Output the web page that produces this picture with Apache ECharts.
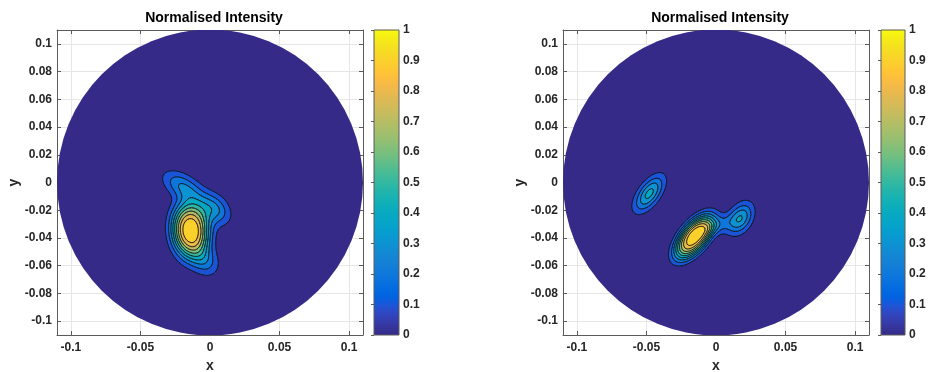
<!DOCTYPE html>
<html>
<head>
<meta charset="utf-8">
<title>Normalised Intensity</title>
<script src="https://cdn.jsdelivr.net/npm/echarts@6/dist/echarts.min.js"></script>
<style>
html, body { margin: 0; padding: 0; background: #fff; }
#main { width: 928px; height: 372px; }
</style>
</head>
<body>
<div id="main"></div>
<script>
// axes
var axisMin = -0.11, axisMax = 0.11;
var diskRadius = 0.11;
var contourLevels = [0.1, 0.2, 0.3, 0.4, 0.5, 0.6, 0.7, 0.8, 0.9];
var colorbarMin = 0, colorbarMax = 1, colorbarStep = 0.1;

// intensity spots
// cx, cy, amplitude, sigma along major axis, sigma along minor axis, major axis angle (deg), shape power
var spotsLeft = [
  [-0.0140, -0.0345, 1.00, 0.0150, 0.0100, 95, 1.3],
  [-0.0195, -0.0030, 0.30, 0.0110, 0.0060, -32, 1.0],
  [ 0.0030, -0.0190, 0.32, 0.0090, 0.0065, -45, 1.0],
  [-0.0030, -0.0570, 0.22, 0.0080, 0.0065, 120, 1.0]
];
var spotsRight = [
  [-0.0480, -0.0080, 0.45, 0.0103, 0.0050, 54, 1.0],
  [-0.0157, -0.0393, 1.00, 0.0146, 0.0072, 51, 1.4],
  [ 0.0176, -0.0258, 0.40, 0.0085, 0.0055, 60, 1.0],
  [ 0.0010, -0.0310, 0.20, 0.0090, 0.0045, 22, 1.0]
];

// parula colormap
var parula = [
  [0.2081,0.1663,0.5292],[0.2116,0.1898,0.5777],[0.2123,0.2138,0.6270],[0.2081,0.2386,0.6771],
  [0.1959,0.2645,0.7279],[0.1707,0.2919,0.7792],[0.1253,0.3242,0.8303],[0.0591,0.3598,0.8683],
  [0.0117,0.3875,0.8820],[0.0060,0.4086,0.8828],[0.0165,0.4266,0.8786],[0.0329,0.4430,0.8720],
  [0.0498,0.4586,0.8641],[0.0629,0.4737,0.8554],[0.0723,0.4887,0.8467],[0.0779,0.5040,0.8384],
  [0.0793,0.5200,0.8312],[0.0749,0.5375,0.8263],[0.0641,0.5570,0.8240],[0.0488,0.5772,0.8228],
  [0.0343,0.5966,0.8199],[0.0265,0.6137,0.8135],[0.0239,0.6287,0.8038],[0.0231,0.6418,0.7913],
  [0.0228,0.6535,0.7768],[0.0267,0.6642,0.7607],[0.0384,0.6743,0.7436],[0.0590,0.6838,0.7254],
  [0.0843,0.6928,0.7062],[0.1133,0.7015,0.6859],[0.1453,0.7098,0.6646],[0.1801,0.7177,0.6424],
  [0.2178,0.7250,0.6193],[0.2586,0.7317,0.5954],[0.3022,0.7376,0.5712],[0.3482,0.7424,0.5473],
  [0.3953,0.7459,0.5244],[0.4420,0.7481,0.5033],[0.4871,0.7491,0.4840],[0.5300,0.7491,0.4661],
  [0.5709,0.7485,0.4494],[0.6099,0.7473,0.4337],[0.6473,0.7456,0.4188],[0.6834,0.7435,0.4044],
  [0.7184,0.7411,0.3905],[0.7525,0.7384,0.3768],[0.7858,0.7356,0.3633],[0.8185,0.7327,0.3498],
  [0.8507,0.7299,0.3360],[0.8824,0.7274,0.3217],[0.9139,0.7258,0.3063],[0.9450,0.7261,0.2886],
  [0.9739,0.7314,0.2666],[0.9938,0.7455,0.2403],[0.9990,0.7653,0.2164],[0.9955,0.7861,0.1967],
  [0.9880,0.8066,0.1794],[0.9789,0.8271,0.1633],[0.9697,0.8481,0.1475],[0.9626,0.8705,0.1309],
  [0.9589,0.8949,0.1132],[0.9598,0.9218,0.0948],[0.9661,0.9514,0.0755],[0.9763,0.9831,0.0538]
];

function rgb(c) {
  return 'rgb(' + Math.round(c[0] * 255) + ',' + Math.round(c[1] * 255) + ',' + Math.round(c[2] * 255) + ')';
}
function parulaAt(t) {
  var pos = Math.max(0, Math.min(1, t)) * (parula.length - 1);
  var i = Math.min(Math.floor(pos), parula.length - 2), f = pos - i;
  var a = parula[i], b = parula[i + 1];
  return rgb([a[0] + (b[0] - a[0]) * f, a[1] + (b[1] - a[1]) * f, a[2] + (b[2] - a[2]) * f]);
}

// fill colour of each band: band 0 is below the first level
var bandColors = [parulaAt(0)];
contourLevels.forEach(function (l) { bandColors.push(parulaAt(l)); });

var N = 300;
var step = (axisMax - axisMin) / N;

function intensity(spots, x, y) {
  var s = 0;
  for (var k = 0; k < spots.length; k++) {
    var b = spots[k];
    var dx = x - b[0], dy = y - b[1];
    var a = b[5] * Math.PI / 180;
    var u = dx * Math.cos(a) + dy * Math.sin(a);
    var v = -dx * Math.sin(a) + dy * Math.cos(a);
    var q = (u / b[3]) * (u / b[3]) + (v / b[4]) * (v / b[4]);
    s += b[2] * Math.exp(-0.5 * Math.pow(q, b[6]));
  }
  return s;
}

function buildField(spots) {
  var f = [], max = 0;
  for (var j = 0; j <= N; j++) {
    var row = [];
    for (var i = 0; i <= N; i++) {
      var v = intensity(spots, axisMin + i * step, axisMin + j * step);
      row.push(v);
      if (v > max) max = v;
    }
    f.push(row);
  }
  for (j = 0; j <= N; j++) for (i = 0; i <= N; i++) f[j][i] /= max;
  return f;
}

function bandOf(v) {
  var k = 0;
  while (k < contourLevels.length && v >= contourLevels[k]) k++;
  return k;
}

// runs of equal band along each row
function buildRuns(f) {
  var runs = [];
  for (var j = 0; j <= N; j++) {
    var i = 0;
    while (i <= N) {
      var b = bandOf(f[j][i]), i0 = i;
      while (i + 1 <= N && bandOf(f[j][i + 1]) === b) i++;
      if (b > 0) runs.push([axisMin + (i0 - 0.5) * step, axisMin + (i + 0.5) * step, axisMin + j * step, b]);
      i++;
    }
  }
  return runs;
}

// marching squares
function buildContours(f) {
  var segs = [];
  contourLevels.forEach(function (L) {
    for (var j = 0; j < N; j++) {
      for (var i = 0; i < N; i++) {
        var v00 = f[j][i], v10 = f[j][i + 1], v01 = f[j + 1][i], v11 = f[j + 1][i + 1];
        if (Math.max(v00, v10, v01, v11) < L || Math.min(v00, v10, v01, v11) >= L) continue;
        var x0 = axisMin + i * step, y0 = axisMin + j * step;
        var pts = [];
        function edge(va, vb, xa, ya, xb, yb) {
          if ((va >= L) !== (vb >= L)) {
            var t = (L - va) / (vb - va);
            pts.push([xa + (xb - xa) * t, ya + (yb - ya) * t]);
          }
        }
        edge(v00, v10, x0, y0, x0 + step, y0);
        edge(v10, v11, x0 + step, y0, x0 + step, y0 + step);
        edge(v11, v01, x0 + step, y0 + step, x0, y0 + step);
        edge(v01, v00, x0, y0 + step, x0, y0);
        if (pts.length >= 2) segs.push([pts[0][0], pts[0][1], pts[1][0], pts[1][1]]);
        if (pts.length === 4) segs.push([pts[2][0], pts[2][1], pts[3][0], pts[3][1]]);
      }
    }
  });
  return segs;
}

function fmtTick(v) {
  if (Math.abs(v) > 0.1001) return '';
  return String(Math.round(v * 1000) / 1000);
}

var font = '"Liberation Sans", Arial, Helvetica, sans-serif';
var frameColor = '#5a5a5a';
var labelStyle = { color: '#262626', fontWeight: 'bold', fontSize: 12, fontFamily: font };

function renderDisk(params, api) {
  var c = api.coord([api.value(0), api.value(1)]);
  var r = api.size([api.value(2), 0])[0];
  return { type: 'circle', shape: { cx: c[0], cy: c[1], r: r }, style: { fill: bandColors[0] } };
}
function renderRun(params, api) {
  var y = api.value(2);
  var p0 = api.coord([api.value(0), y + step / 2]);
  var p1 = api.coord([api.value(1), y - step / 2]);
  return {
    type: 'rect',
    shape: { x: p0[0], y: p0[1] - 0.3, width: p1[0] - p0[0], height: p1[1] - p0[1] + 0.6 },
    style: { fill: bandColors[api.value(3)] }
  };
}
function renderSeg(params, api) {
  var a = api.coord([api.value(0), api.value(1)]);
  var b = api.coord([api.value(2), api.value(3)]);
  return {
    type: 'line',
    shape: { x1: a[0], y1: a[1], x2: b[0], y2: b[1] },
    style: { stroke: '#111', lineWidth: 0.6, lineCap: 'round' }
  };
}
var gradientStops = parula.map(function (c, k) { return { offset: k / (parula.length - 1), color: rgb(c) }; });
function renderColorbar(params, api) {
  var p = api.coord([0, colorbarMax]);
  var s = api.size([1, colorbarMax - colorbarMin]);
  return {
    type: 'rect',
    shape: { x: p[0], y: p[1], width: s[0], height: s[1] },
    style: { fill: new echarts.graphic.LinearGradient(0, 1, 0, 0, gradientStops), stroke: frameColor, lineWidth: 1 }
  };
}

var panels = [
  { spots: spotsLeft, grid: { left: 57, top: 30, width: 306, height: 305 }, bar: { left: 374, top: 30, width: 25, height: 305 }, titleX: 214 },
  { spots: spotsRight, grid: { left: 563, top: 30, width: 306, height: 305 }, bar: { left: 881, top: 30, width: 24, height: 305 }, titleX: 720 }
];

var option = {
  animation: false,
  textStyle: { fontFamily: font },
  title: [], grid: [], xAxis: [], yAxis: [], series: []
};

panels.forEach(function (p) {
  var field = buildField(p.spots);
  var g = option.grid.length;
  option.grid.push(
    Object.assign({ containLabel: false, outerBoundsMode: 'none' }, p.grid),
    Object.assign({ containLabel: false, outerBoundsMode: 'none' }, p.bar)
  );
  option.title.push({
    text: 'Normalised Intensity', left: p.titleX, top: 11, textAlign: 'center', padding: 0,
    textStyle: { fontSize: 14, fontWeight: 'bold', color: '#000', fontFamily: font }
  });
  var tickStyle = { inside: true, length: 4, lineStyle: { color: frameColor } };
  var lineStyle = { show: true, onZero: false, lineStyle: { color: frameColor } };
  var ax = option.xAxis.length, ay = option.yAxis.length;
  option.xAxis.push(
    { gridIndex: g, type: 'value', min: axisMin, max: axisMax, splitNumber: 5, position: 'bottom',
      name: 'x', nameLocation: 'middle', nameGap: 23,
      nameTextStyle: { fontSize: 14, fontWeight: 'bold', color: '#262626', fontFamily: font },
      axisLine: lineStyle, axisTick: tickStyle,
      axisLabel: Object.assign({ formatter: fmtTick, margin: 7 }, labelStyle),
      splitLine: { show: true, lineStyle: { color: '#e6e6e6' } } },
    { gridIndex: g, type: 'value', min: axisMin, max: axisMax, splitNumber: 5, position: 'top',
      axisLine: lineStyle, axisTick: tickStyle, axisLabel: { show: false }, splitLine: { show: false } },
    { gridIndex: g + 1, type: 'value', min: 0, max: 1, show: false }
  );
  option.yAxis.push(
    { gridIndex: g, type: 'value', min: axisMin, max: axisMax, splitNumber: 11, position: 'left',
      name: 'y', nameLocation: 'middle', nameGap: 36, nameRotate: 90,
      nameTextStyle: { fontSize: 14, fontWeight: 'bold', color: '#262626', fontFamily: font },
      axisLine: lineStyle, axisTick: tickStyle,
      axisLabel: Object.assign({ formatter: fmtTick, margin: 5 }, labelStyle),
      splitLine: { show: true, lineStyle: { color: '#e6e6e6' } } },
    { gridIndex: g, type: 'value', min: axisMin, max: axisMax, splitNumber: 11, position: 'right',
      axisLine: lineStyle, axisTick: tickStyle, axisLabel: { show: false }, splitLine: { show: false } },
    { gridIndex: g + 1, type: 'value', min: colorbarMin, max: colorbarMax, interval: colorbarStep, position: 'right',
      axisLine: { show: false }, axisTick: { inside: true, length: 3, lineStyle: { color: frameColor } },
      axisLabel: Object.assign({ margin: 4, formatter: function (v) { return String(Math.round(v * 10) / 10); } }, labelStyle),
      splitLine: { show: false } }
  );
  option.series.push(
    { type: 'custom', xAxisIndex: ax, yAxisIndex: ay, z: 1, clip: true, silent: true,
      renderItem: renderDisk, data: [[0, 0, diskRadius]] },
    { type: 'custom', xAxisIndex: ax, yAxisIndex: ay, z: 2, clip: true, silent: true,
      renderItem: renderRun, data: buildRuns(field) },
    { type: 'custom', xAxisIndex: ax, yAxisIndex: ay, z: 3, clip: true, silent: true,
      renderItem: renderSeg, data: buildContours(field) },
    { type: 'custom', xAxisIndex: ax + 2, yAxisIndex: ay + 2, z: 1, silent: true,
      renderItem: renderColorbar, data: [[0, 0]] }
  );
});

var chart = echarts.init(document.getElementById('main'));
chart.setOption(option);
</script>
</body>
</html>
